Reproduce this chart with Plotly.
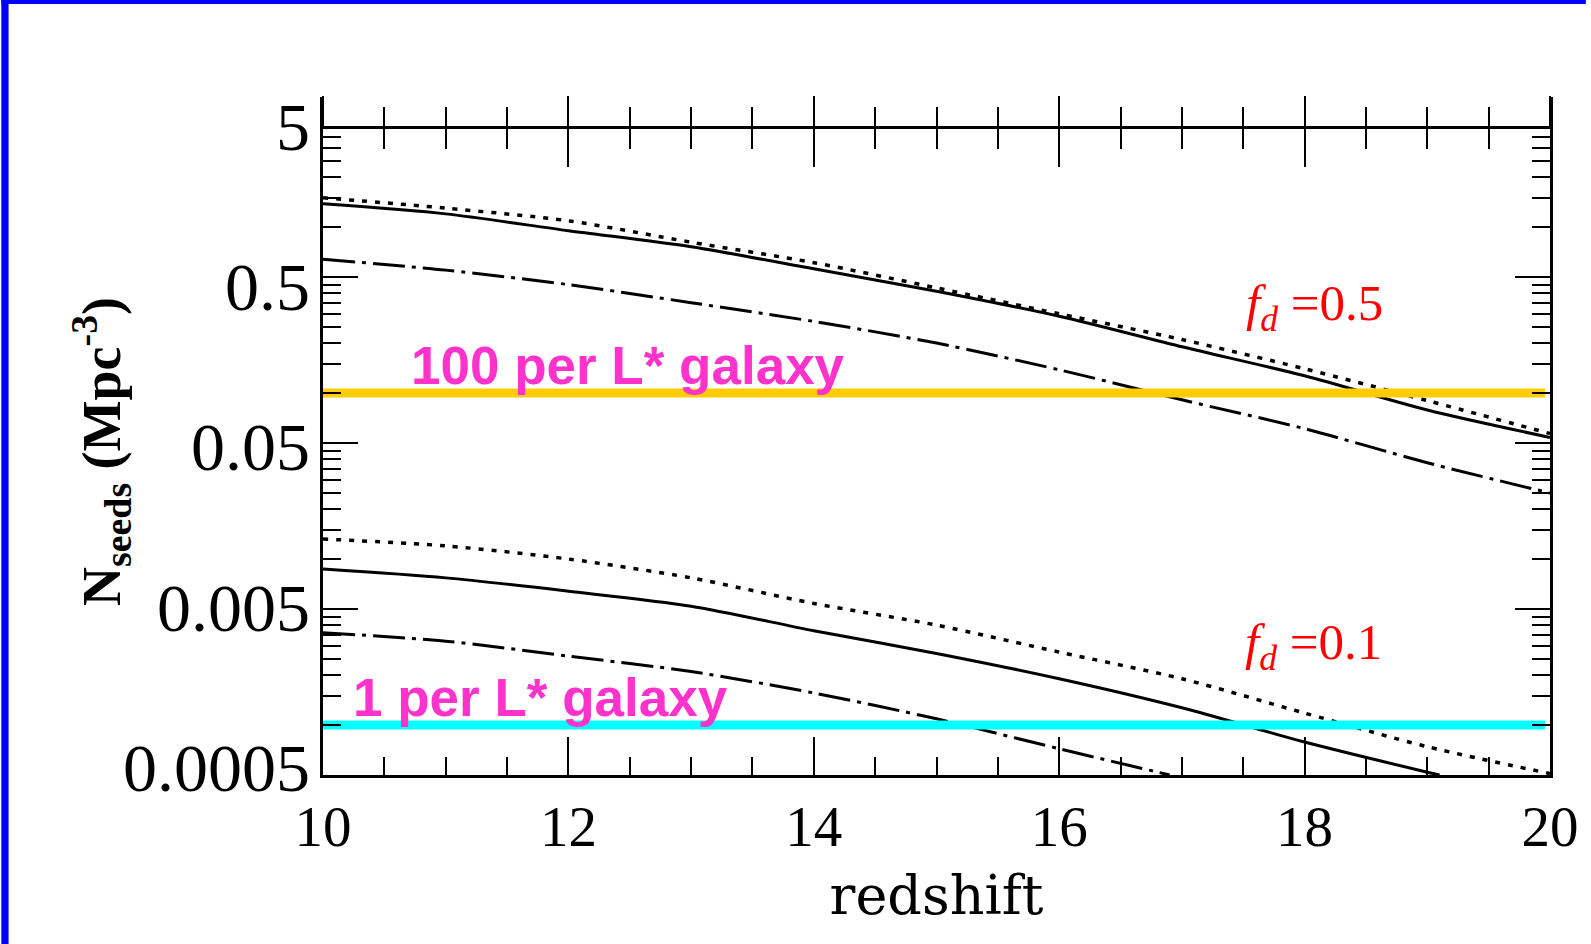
import numpy as np
import plotly.graph_objects as go

# ---------------- data ----------------
redshift = [10, 11, 12, 13, 14, 15, 16, 17, 18, 19, 20]
fd05_dotted = [1.50, 1.30, 1.09, 0.81, 0.61, 0.43, 0.30, 0.21, 0.14, 0.090, 0.057]
fd05_solid = [1.38, 1.20, 0.95, 0.76, 0.56, 0.41, 0.29, 0.19, 0.127, 0.079, 0.054]
fd05_dashdot = [0.64, 0.55, 0.45, 0.35, 0.27, 0.20, 0.138, 0.091, 0.061, 0.038, 0.025]

fd01_dotted = [0.0132, 0.0120, 0.0100, 0.0077, 0.0054, 0.0040, 0.00275, 0.0019, 0.00118, 0.00074, 0.00051]
redshift_fd01_solid = [10, 11, 12, 13, 14, 15, 16, 17, 18, 19, 19.1]
fd01_solid = [0.0087, 0.0077, 0.0064, 0.0052, 0.0037, 0.0027, 0.0019, 0.00127, 0.00079, 0.00052, 0.0005]
redshift_fd01_dashdot = [10, 11, 12, 13, 14, 15, 16, 16.9]
fd01_dashdot = [0.0036, 0.0032, 0.0026, 0.0021, 0.00156, 0.00109, 0.00072, 0.0005]

lstar_levels = [0.1, 0.001]
lstar_labels = ["100 per L* galaxy", "1 per L* galaxy"]
lstar_label_z = [10.70, 10.23]
lstar_colors = ["#FFCC00", "#00FFFF"]
lstar_z = [10, 19.96]

fd_labels = ["<i>f</i><sub><i>d</i></sub> =0.5", "<i>f</i><sub><i>d</i></sub> =0.1"]
fd_label_z = [17.51, 17.50]
fd_label_y = [0.33, 0.0030]

ytick_vals = [0.0005, 0.005, 0.05, 0.5, 5]
ytick_text = ["0.0005", "0.005", "0.05", "0.5", "5"]
ymajor = [0.0005, 0.005, 0.05, 0.5]
yminor = [k * 5 * 10.0 ** n for n in (-4, -3, -2) for k in range(2, 10)] + [k * 0.5 for k in range(2, 8)]
xtick_vals = [10, 12, 14, 16, 18, 20]
xtick_text = ["10", "12", "14", "16", "18", "20"]

# ---------------- layout geometry ----------------
W, H = 1591, 944
ML, MR, MT, MB = 323, 36, 97, 169
y_range = [np.log10(5e-4), 0.7833]
frame_top = 4.0
pos_top = (np.log10(frame_top) - y_range[0]) / (y_range[1] - y_range[0])
label_range = [-3.3509, 0.8800]
pw, ph = W - ML - MR, H - MT - MB

SERIF = "Liberation Serif"
SANS = "Liberation Sans"

fig = go.Figure()

line_styles = [
    (redshift, fd05_dotted, "5px,8px", 3.5),
    (redshift, fd05_solid, "solid", 3),
    (redshift, fd05_dashdot, "32px,7px,4px,7px", 3),
    (redshift, fd01_dotted, "5px,8px", 3.5),
    (redshift_fd01_solid, fd01_solid, "solid", 3),
    (redshift_fd01_dashdot, fd01_dashdot, "32px,7px,4px,7px", 3),
]
for xs, ys, dash, w in line_styles:
    fig.add_trace(go.Scatter(x=xs, y=ys, mode="lines", showlegend=False,
                             line=dict(color="black", width=w, dash=dash,
                                       shape="spline", smoothing=0.8),
                             hoverinfo="skip"))

for lvl, col in zip(lstar_levels, lstar_colors):
    fig.add_trace(go.Scatter(x=lstar_z, y=[lvl, lvl], mode="lines", showlegend=False,
                             line=dict(color=col, width=9), hoverinfo="skip"))

# empty traces binding the decorative axes
for xa, ya in (("x2", "y"), ("x3", "y"), ("x", "y2"), ("x", "y3")):
    fig.add_trace(go.Scatter(x=[None], y=[None], xaxis=xa, yaxis=ya,
                             showlegend=False, hoverinfo="skip"))

axis_common = dict(showgrid=False, zeroline=False, showline=True,
                   linecolor="black", linewidth=2.5, tickcolor="black")

fig.update_layout(
    width=W, height=H,
    margin=dict(l=ML, r=MR, t=MT, b=MB, pad=0),
    paper_bgcolor="white", plot_bgcolor="white",
    showlegend=False,
    xaxis=dict(**axis_common, range=[10, 20], domain=[0, 1],
               ticks="inside", ticklen=38, tickwidth=2,
               tickmode="array", tickvals=xtick_vals, ticktext=xtick_text,
               tickfont=dict(family=SERIF, size=57, color="black"),
               ticklabelstandoff=0,
               minor=dict(ticks="inside", ticklen=18, tickwidth=2, tickcolor="black",
                          dtick=0.5, tick0=10, showgrid=False),
               title=dict(text="redshift", font=dict(family="DejaVu Serif", size=54, color="black"),
                          standoff=20)),
    xaxis2=dict(**axis_common, range=[10, 20], overlaying="x", anchor="free",
                position=pos_top, side="top",
                ticks="outside", ticklen=30, tickwidth=2,
                tickmode="array", tickvals=xtick_vals, showticklabels=False,
                minor=dict(ticks="outside", ticklen=19, tickwidth=2, tickcolor="black",
                           dtick=0.5, tick0=10, showgrid=False)),
    xaxis3=dict(**axis_common, range=[10, 20], overlaying="x", anchor="free",
                position=pos_top, side="top",
                ticks="inside", ticklen=38, tickwidth=2,
                tickmode="array", tickvals=xtick_vals, showticklabels=False,
                minor=dict(ticks="inside", ticklen=20, tickwidth=2, tickcolor="black",
                           dtick=0.5, tick0=10, showgrid=False)),
    yaxis=dict(**axis_common, type="log", range=y_range, domain=[0, 1],
               ticks="inside", ticklen=35, tickwidth=2,
               tickmode="array", tickvals=ymajor, showticklabels=False,
               minor=dict(ticks="inside", ticklen=18, tickwidth=2, tickcolor="black",
                          tickmode="array", tickvals=yminor, showgrid=False)),
    yaxis2=dict(**axis_common, type="log", range=y_range, overlaying="y", side="right",
                anchor="x", ticks="inside", ticklen=35, tickwidth=2,
                tickmode="array", tickvals=ymajor, showticklabels=False,
                minor=dict(ticks="inside", ticklen=18, tickwidth=2, tickcolor="black",
                           tickmode="array", tickvals=yminor, showgrid=False)),
    yaxis3=dict(showgrid=False, zeroline=False, showline=False, type="log",
                range=label_range, overlaying="y", side="left", anchor="x",
                ticks="", tickmode="array", tickvals=ytick_vals, ticktext=ytick_text,
                tickfont=dict(family=SERIF, size=68, color="black"),
                ticklabelstandoff=12),
)

annotations = []
for txt, lvl, zx in zip(lstar_labels, lstar_levels, lstar_label_z):
    annotations.append(dict(x=zx, y=np.log10(lvl), xref="x", yref="y", text=f"<b>{txt}</b>",
                            showarrow=False, xanchor="left", yanchor="bottom", yshift=-4,
                            font=dict(family=SANS, size=53, color="#FF33CC")))
for txt, zx, yv in zip(fd_labels, fd_label_z, fd_label_y):
    annotations.append(dict(x=zx, y=np.log10(yv), xref="x", yref="y", text=txt,
                            showarrow=False, xanchor="left", yanchor="middle",
                            font=dict(family=SERIF, size=51, color="#FF0000")))
annotations.append(dict(x=(100 - ML) / pw, y=(H - MB - 451) / ph, xref="paper", yref="paper",
                        text="<b>N<sub>seeds</sub> (Mpc<sup>-3</sup>)</b>", textangle=-90,
                        showarrow=False, xanchor="center", yanchor="middle",
                        font=dict(family=SERIF, size=54, color="black")))
fig.update_layout(annotations=annotations)

# blue slide border (left and top edges)
fig.add_shape(type="rect", xref="paper", yref="paper", x0=-ML / pw, x1=(7.3 - ML) / pw,
              y0=-MB / ph, y1=(H - MB) / ph, fillcolor="#0000FF", line=dict(width=0), layer="above")
fig.add_shape(type="rect", xref="paper", yref="paper", x0=-ML / pw, x1=(W - ML) / pw,
              y0=(H - MB - 4) / ph, y1=(H - MB) / ph, fillcolor="#0000FF", line=dict(width=0), layer="above")

fig.write_html("out.html")
